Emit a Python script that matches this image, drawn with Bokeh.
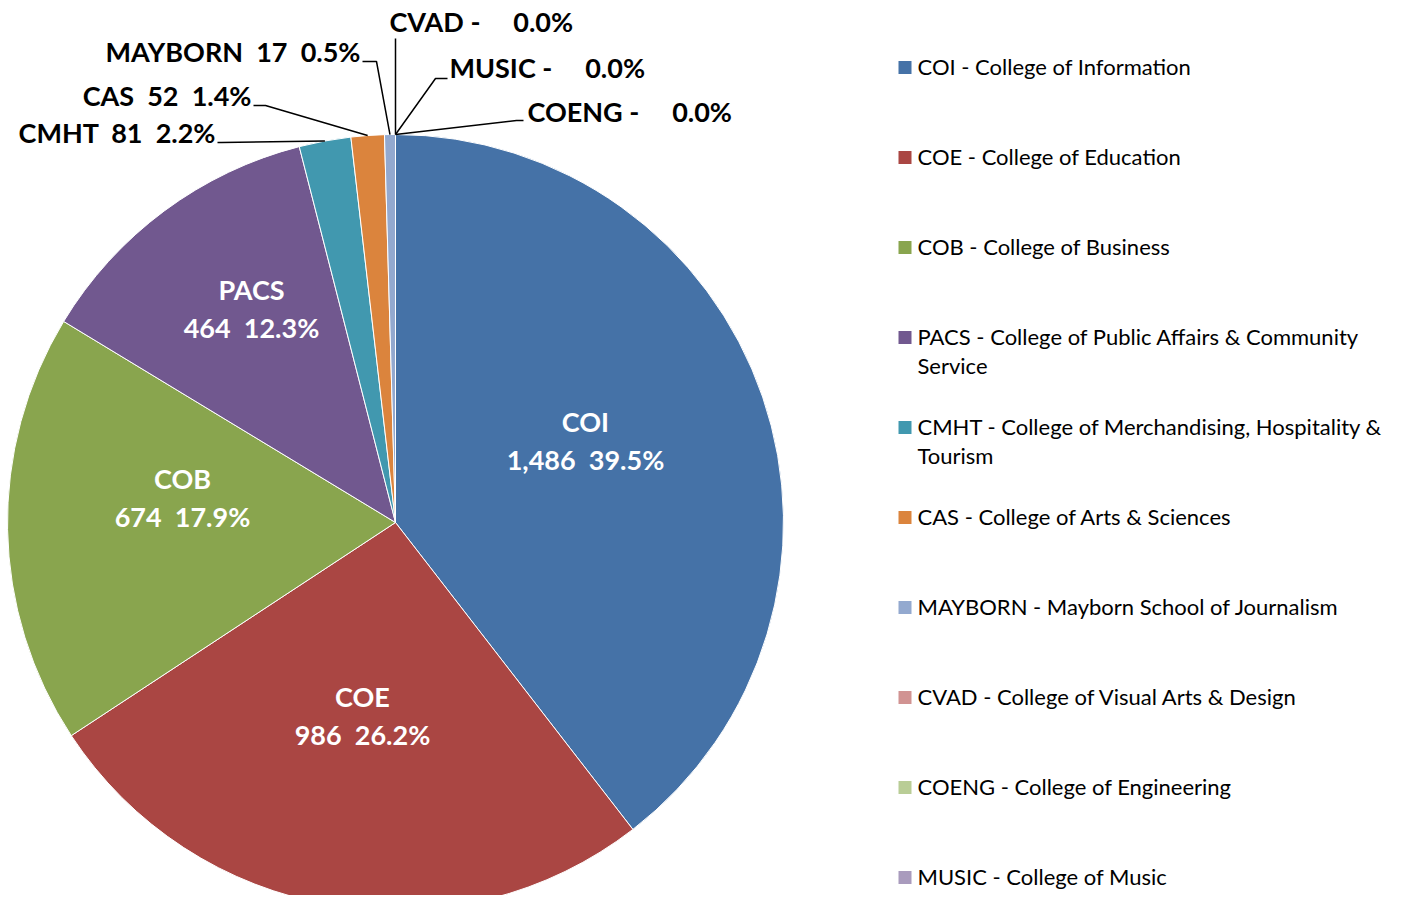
import math
from bokeh.plotting import figure
from bokeh.models import Range1d
from bokeh.core.properties import value
from bokeh.embed import file_html
from bokeh.resources import INLINE

# ---------------- data ----------------
codes = ["COI", "COE", "COB", "PACS", "CMHT", "CAS", "MAYBORN", "CVAD", "COENG", "MUSIC"]
counts = [1486, 986, 674, 464, 81, 52, 17, 0, 0, 0]
legend_names = [
    "COI - College of Information",
    "COE - College of Education",
    "COB - College of Business",
    "PACS - College of Public Affairs & Community\nService",
    "CMHT - College of Merchandising, Hospitality &\nTourism",
    "CAS - College of Arts & Sciences",
    "MAYBORN - Mayborn School of Journalism",
    "CVAD - College of Visual Arts & Design",
    "COENG - College of Engineering",
    "MUSIC - College of Music",
]
colors = ["#4572A7", "#AA4643", "#89A54E", "#71588F", "#4198AF",
          "#DB843D", "#93A9CF", "#D19392", "#B9CD96", "#A99BBD"]

# ---------------- layout (screen px of the reference) ----------------
W, H = 1387, 895
CX, CY, R = 395, 522, 388
FONT = "Lato"
SP = "\u00a0"

def Y(ys):
    return 911 - ys

inner_pos = {"COI": (585, 440), "COE": (362, 715), "COB": (182, 497), "PACS": (251, 308)}
outer = {
    "CMHT": dict(x=215, y=132, align="right", path=[(217, 142), (221, 142)]),
    "CAS": dict(x=251, y=95, align="right", path=[(253, 105), (265, 105)]),
    "MAYBORN": dict(x=360, y=51, align="right", path=[(362, 61), (376, 61)]),
    "CVAD": dict(x=389, y=21, align="left", path=[(395, 38)]),
    "MUSIC": dict(x=449, y=67, align="left", path=[(447, 78), (435, 78)]),
    "COENG": dict(x=527, y=111, align="left", path=[(523, 120), (516, 120)]),
}
LEG_X_SQ, LEG_X_TXT, LEG_Y0, LEG_DY, SQ = 904.5, 917, 67, 90, 13

p = figure(width=W, height=H, output_backend="svg", toolbar_location=None,
           x_range=Range1d(0, W), y_range=Range1d(911 - H, 911),
           min_border=0, outline_line_color=None,
           x_axis_location=None, y_axis_location=None)
p.xgrid.visible = False
p.ygrid.visible = False
p.background_fill_color = "white"
p.border_fill_color = "white"

total = sum(counts)
fracs = [c / total for c in counts]
cum = [0.0]
for f in fracs:
    cum.append(cum[-1] + f)

# wedges
ws = dict(x=[], y=[], s=[], e=[], c=[])
for i, c in enumerate(counts):
    if c <= 0:
        continue
    ws["x"].append(CX)
    ws["y"].append(Y(CY))
    ws["s"].append(math.pi / 2 - 2 * math.pi * cum[i])
    ws["e"].append(math.pi / 2 - 2 * math.pi * cum[i + 1])
    ws["c"].append(colors[i])
p.wedge(x="x", y="y", radius=R, start_angle="s", end_angle="e", direction="clock",
        fill_color="c", line_color="white", line_width=1, source=ws)

# inner labels
for i, code in enumerate(codes):
    if code in inner_pos:
        x, y = inner_pos[code]
        txt = f"{code}\n{counts[i]:,}{SP*2}{fracs[i]*100:.1f}%"
        p.text(x=[x], y=[Y(y)], text=[txt], text_color="white",
               text_font=value(FONT), text_font_style="bold", text_font_size="27px",
               text_align="center", text_baseline="middle", text_line_height=1.15)

# outer labels with leader lines
lx, ly = [], []
for i, code in enumerate(codes):
    if code in outer:
        o = outer[code]
        if counts[i] == 0:
            txt = f"{code}{SP}-{SP*5}{fracs[i]*100:.1f}%"
        else:
            txt = f"{code}{SP*2}{counts[i]:,}{SP*2}{fracs[i]*100:.1f}%"
        p.text(x=[o["x"]], y=[Y(o["y"])], text=[txt], text_color="black",
               text_font=value(FONT), text_font_style="bold", text_font_size="27px",
               text_align=o["align"], text_baseline="middle")
        th = 2 * math.pi * (cum[i] + cum[i + 1]) / 2
        ex = CX + R * math.sin(th)
        ey = CY - R * math.cos(th)
        pts = o["path"] + [(ex, ey)]
        lx.append([q[0] for q in pts])
        ly.append([Y(q[1]) for q in pts])
p.multi_line(xs=lx, ys=ly, line_color="black", line_width=1.5)

# legend
for i, name in enumerate(legend_names):
    yc = LEG_Y0 + i * LEG_DY
    p.rect(x=[LEG_X_SQ], y=[Y(yc)], width=SQ, height=SQ, fill_color=colors[i], line_color=None)
    p.text(x=[LEG_X_TXT], y=[Y(yc - 15)], text=[name], text_color="black",
           text_font=value(FONT), text_font_size="22px",
           text_align="left", text_baseline="top", text_line_height=1.09)

open("out.html", "w").write(file_html(p, INLINE))
